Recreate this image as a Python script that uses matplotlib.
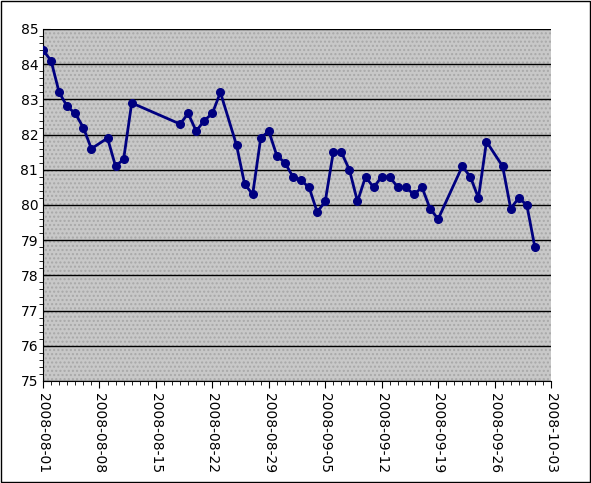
import numpy as np
import matplotlib
matplotlib.use('Agg')
import matplotlib.pyplot as plt
import matplotlib.dates as mdates
from matplotlib.patches import Rectangle
from matplotlib.ticker import MultipleLocator

# day offsets from 2008-08-01 and values
days = [0, 1, 2, 3, 4, 5, 6, 8, 9, 10, 11, 17, 18, 19, 20, 21, 22, 24, 25, 26,
        27, 28, 29, 30, 31, 32, 33, 34, 35, 36, 37, 38, 39, 40, 41, 42, 43, 44,
        45, 46, 47, 48, 49, 52, 53, 54, 55, 57, 58, 59, 60, 61]
values = [84.4, 84.1, 83.2, 82.8, 82.6, 82.2, 81.6, 81.9, 81.1, 81.3, 82.9,
          82.3, 82.6, 82.1, 82.4, 82.6, 83.2, 81.7, 80.6, 80.3, 81.9, 82.1,
          81.4, 81.2, 80.8, 80.7, 80.5, 79.8, 80.1, 81.5, 81.5, 81.0, 80.1,
          80.8, 80.5, 80.8, 80.8, 80.5, 80.5, 80.3, 80.5, 79.9, 79.6, 81.1,
          80.8, 80.2, 81.8, 81.1, 79.9, 80.2, 80.0, 78.8]

start = np.datetime64('2008-08-01')
dates = [(start + np.timedelta64(d, 'D')).astype('O') for d in days]

fig = plt.figure(figsize=(5.91, 4.83), dpi=100)
fig.patches.append(Rectangle((0.002, 0.002), 0.996, 0.996, transform=fig.transFigure,
                             fill=False, edgecolor='black', lw=1))
ax = fig.add_axes([43/591, 1 - 381/483, 508/591, 352/483])
ax.set_facecolor('#c8c8c8')
ax.add_patch(Rectangle((0, 0), 1, 1, transform=ax.transAxes, fill=False,
                       hatch='....', edgecolor='#a8a8a8', lw=0, zorder=0))

ax.plot(dates, values, color='#000080', lw=2, marker='o', ms=5.5, zorder=3)

ax.set_ylim(75, 85)
ax.set_xlim(start.astype('O'), (start + np.timedelta64(63, 'D')).astype('O'))
ax.yaxis.set_major_locator(MultipleLocator(1))
ax.yaxis.set_minor_locator(MultipleLocator(0.2))
ax.grid(axis='y', which='major', color='black', lw=1)
ax.xaxis.set_major_locator(mdates.DayLocator(bymonthday=[1, 8, 15, 22, 29, 5, 12, 19, 26, 3]))
ticks = [(start + np.timedelta64(7 * i, 'D')).astype('O') for i in range(10)]
ax.set_xticks(ticks)
ax.xaxis.set_minor_locator(mdates.DayLocator())
ax.xaxis.set_major_formatter(mdates.DateFormatter('%Y-%m-%d'))
for lab in ax.get_xticklabels():
    lab.set_rotation(-90)
ax.tick_params(axis='both', labelsize=10, direction='in', length=5, color='black')
ax.tick_params(axis='y', direction='in', length=5)
ax.tick_params(axis='x', direction='out', length=5)
ax.tick_params(which='minor', length=3)
for s in ['top', 'right']:
    ax.spines[s].set_visible(False)
ax.set_axisbelow(True)

fig.savefig('out.png', dpi=100)
